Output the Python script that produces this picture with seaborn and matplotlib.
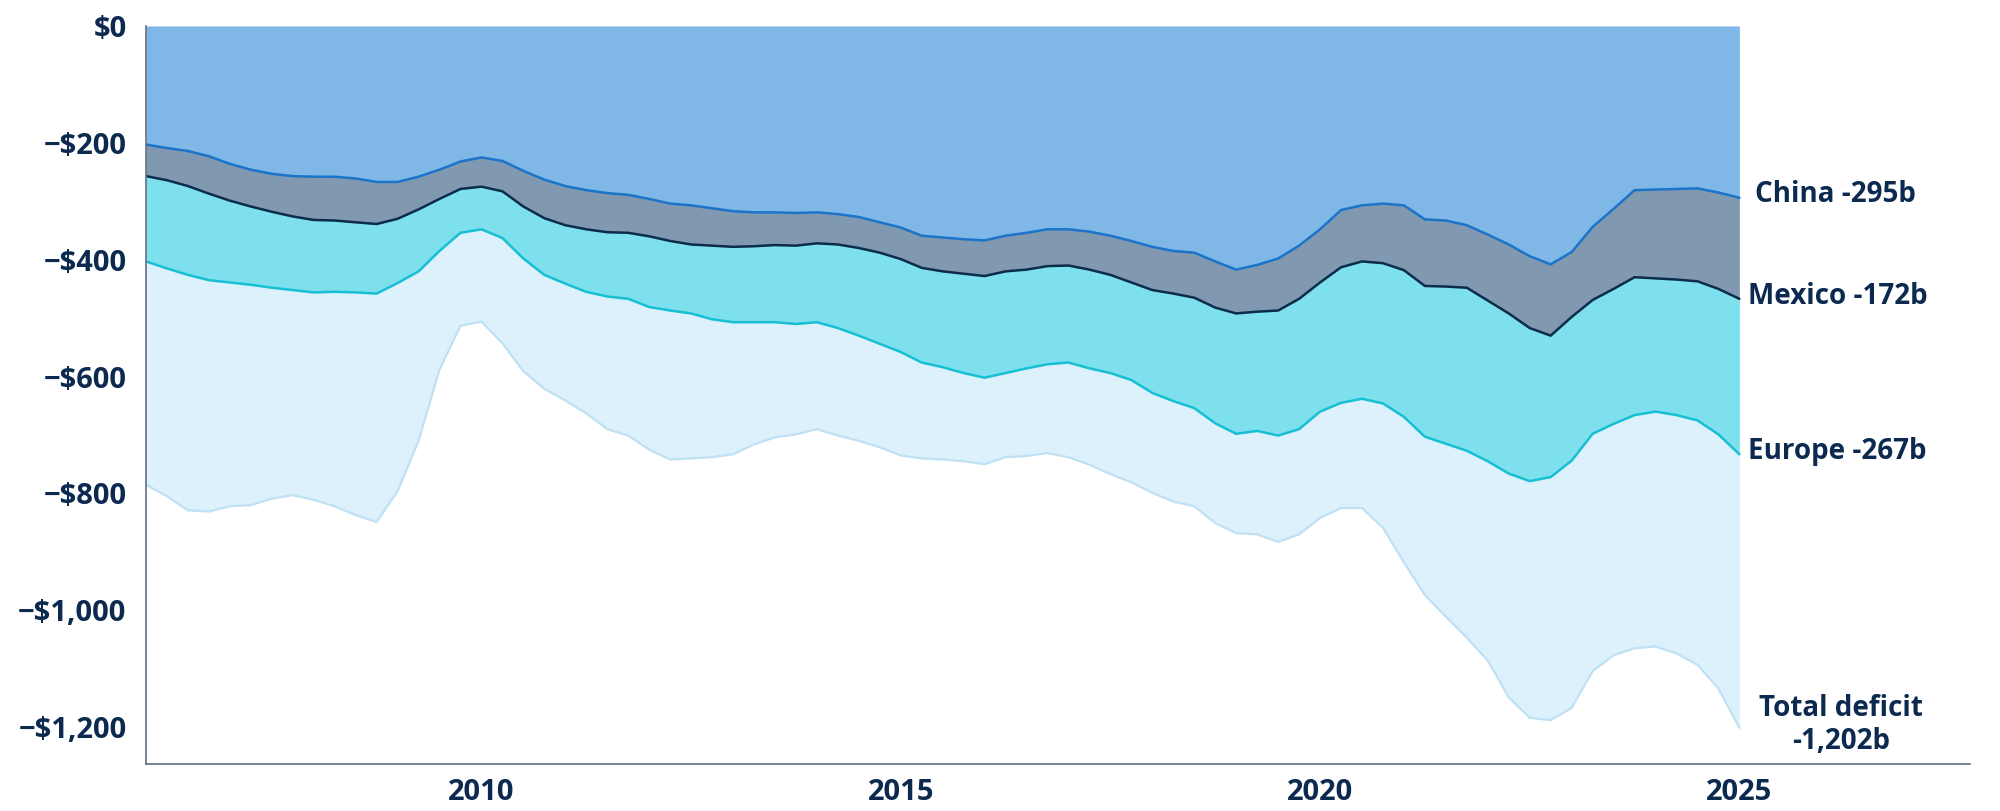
# Trade deficit by partner, stacked area (rolling 12m, $b)
import numpy as np
import pandas as pd
import matplotlib
matplotlib.use("Agg")
import matplotlib.pyplot as plt
import seaborn as sns

# quarterly grid, 2006 Q1 .. 2025 Q1
years = np.linspace(2006, 2025, 77)

# cumulative boundaries (negative = deficit)
china_line = [-203, -209, -214, -223, -236, -246, -253, -257, -258, -258, -261, -267,
              -267, -258, -246, -232, -225, -231, -248, -263,
              -274, -281, -286, -289, -296, -304, -307, -312, -317, -319, -319, -320,
              -319, -322, -327, -336, -345, -359, -362,
              -365, -367, -359, -354, -348, -348, -352, -359, -368, -378, -385, -388,
              -403, -417, -409, -398, -376, -348, -315,
              -307, -304, -307, -331, -333, -341, -357, -374, -394, -408, -387, -344,
              -313, -281, -280, -279, -278, -285, -294]
mexico_line = [-257, -264, -274, -287, -299, -309, -318, -326, -332, -333, -336, -339,
               -330, -314, -296, -279, -275, -283, -309, -329,
               -341, -348, -353, -354, -360, -368, -374, -376, -378, -377, -375, -376,
               -372, -374, -380, -388, -399, -414, -420,
               -424, -428, -420, -417, -411, -410, -417, -426, -439, -452, -458, -465,
               -482, -492, -489, -487, -467, -439, -413,
               -403, -406, -418, -445, -446, -448, -470, -492, -517, -530, -498, -469,
               -450, -430, -432, -434, -437, -450, -467]
europe_line = [-403, -415, -426, -435, -439, -443, -448, -452, -456, -455, -456, -458,
               -440, -420, -385, -354, -348, -363, -398, -426,
               -441, -455, -463, -467, -481, -487, -492, -502, -507, -507, -507, -510,
               -507, -517, -530, -544, -558, -576, -584,
               -594, -602, -594, -586, -579, -576, -586, -594, -606, -628, -642, -654,
               -680, -698, -693, -701, -690, -660, -645,
               -638, -646, -669, -703, -715, -727, -745, -766, -779, -772, -744, -698,
               -681, -666, -660, -666, -675, -699, -733]
total_line = [-785, -805, -829, -831, -822, -820, -809, -803, -811, -822, -837, -849,
              -796, -710, -588, -513, -506, -543, -591, -621,
              -641, -663, -690, -701, -725, -742, -740, -738, -733, -716, -704, -699,
              -690, -701, -710, -721, -735, -740, -742,
              -745, -750, -738, -736, -731, -738, -751, -767, -781, -799, -814, -822,
              -851, -868, -870, -883, -870, -842, -825,
              -825, -859, -918, -974, -1011, -1047, -1086, -1149, -1184, -1188, -1167, -1104,
              -1077, -1065, -1062, -1074, -1093, -1134, -1201]

labels = ["China -295b", "Mexico -172b", "Europe -267b", "Total deficit\n-1,202b"]
yticks = [0, -200, -400, -600, -800, -1000, -1200]
xticks = [2010, 2015, 2020, 2025]

df = pd.DataFrame({"year": years, "china": china_line, "mexico": mexico_line,
                   "europe": europe_line, "total": total_line})

navy = "#0c2a4f"
sns.set_theme(style="white")
plt.rcParams['font.family'] = ['Open Sans', 'DejaVu Sans']

fig = plt.figure(figsize=(20, 8.11), dpi=100)
ax = fig.add_axes([0.073, 0.058, 0.912, 0.910])

# fills, top to bottom
ax.fill_between(df["year"], 0, df["china"], color="#7fb8e6", lw=0)
ax.fill_between(df["year"], df["china"], df["mexico"], color="#8099b0", lw=0)
ax.fill_between(df["year"], df["mexico"], df["europe"], color="#7ee0ec", lw=0)
ax.fill_between(df["year"], df["europe"], df["total"], color="#dcf1fc", lw=0)

# boundary lines
sns.lineplot(data=df, x="year", y="total", color="#bfe1f3", lw=1.6, ax=ax)
sns.lineplot(data=df, x="year", y="europe", color="#17bfd4", lw=1.8, ax=ax)
sns.lineplot(data=df, x="year", y="mexico", color="#0b2c4a", lw=1.8, ax=ax)
sns.lineplot(data=df, x="year", y="china", color="#1b74c9", lw=1.8, ax=ax)

ax.set_xlim(2006, 2027.75)
ax.set_ylim(-1263, 0)

# end labels
x_end = df["year"].iloc[-1]
for col, lab, dx in zip(["china", "mexico", "europe"], labels[:3], [11, 6, 6]):
    ax.annotate(lab, xy=(x_end, df[col].iloc[-1]), xytext=(dx, 2),
                textcoords="offset points", ha="left", va="center",
                fontsize=20, fontweight="bold", color=navy)
ax.annotate(labels[3], xy=(x_end, df["total"].iloc[-1]), xytext=(73, 2),
            textcoords="offset points", ha="center", va="center",
            fontsize=20, fontweight="bold", color=navy, linespacing=1.15)

ax.set_yticks(yticks)
ax.set_yticklabels(["$0" if v == 0 else "\u2212${:,}".format(-v) for v in yticks])
ax.set_xticks(xticks)
ax.set_xticklabels([str(v) for v in xticks])
ax.tick_params(axis="both", labelsize=21, colors=navy, length=6, width=1)
ax.tick_params(axis="y", pad=8, color="#6b7a8c")
ax.tick_params(axis="x", pad=4, color="#6b7a8c")
for t in ax.get_xticklabels() + ax.get_yticklabels():
    t.set_fontweight("bold")

ax.set_xlabel("")
ax.set_ylabel("")
sns.despine(ax=ax)
for s in ["left", "bottom"]:
    ax.spines[s].set_color("#5d6e82")
    ax.spines[s].set_linewidth(1.2)

fig.savefig("out.png", dpi=100)
